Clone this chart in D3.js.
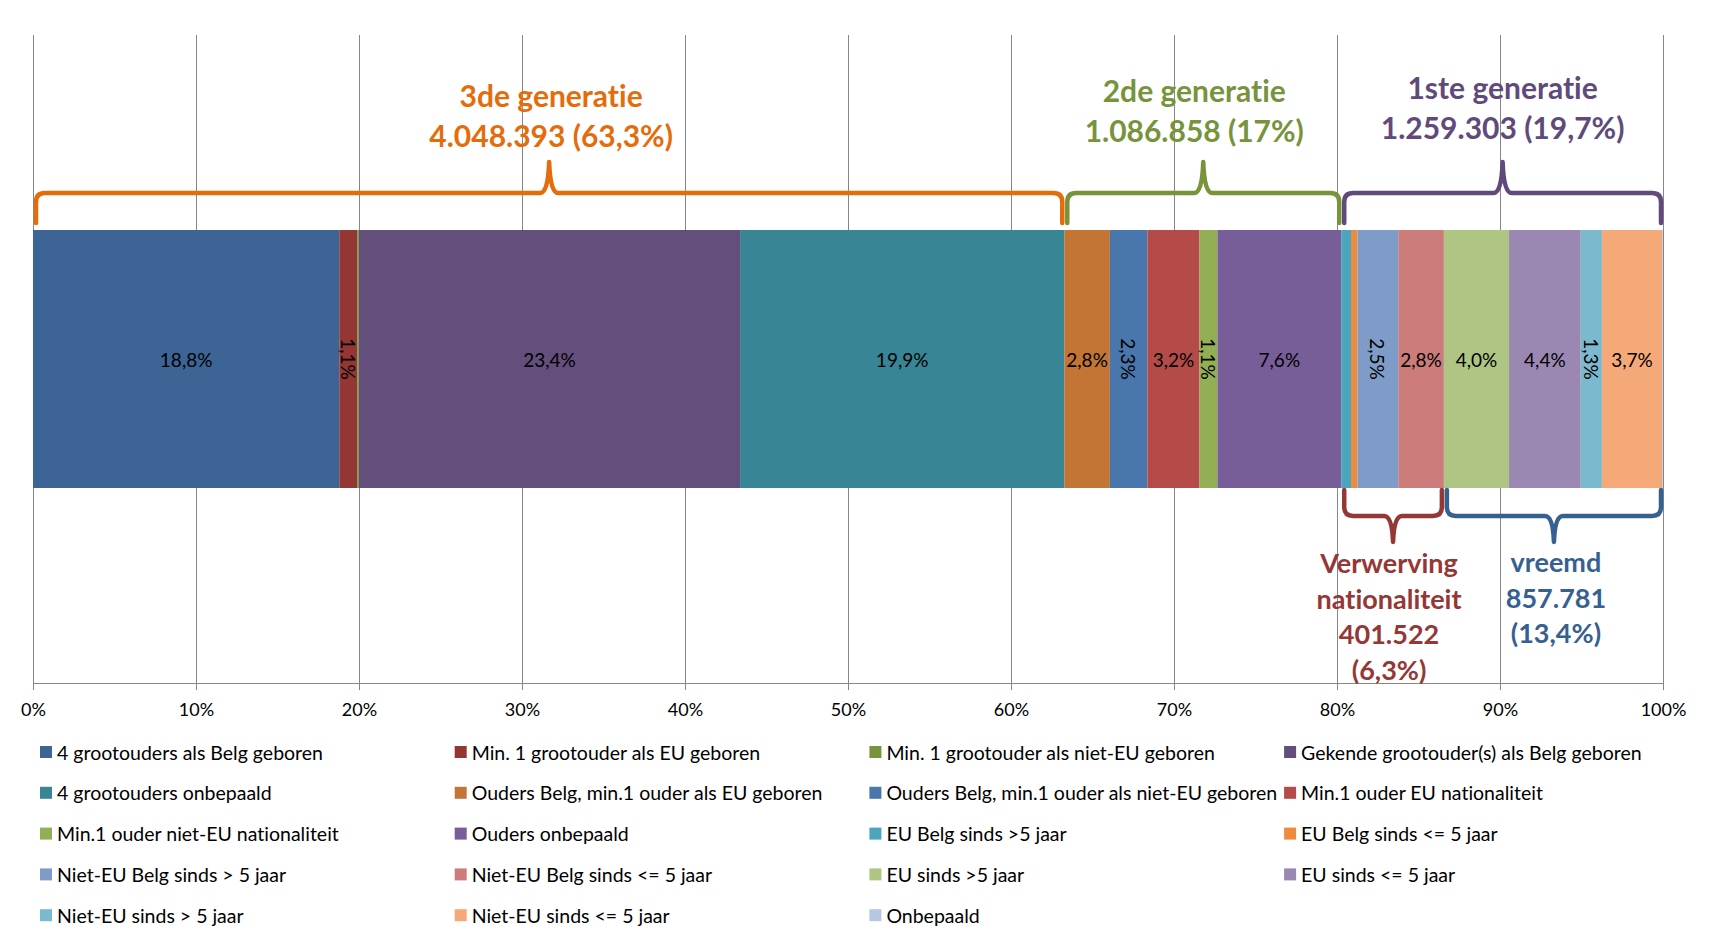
<!DOCTYPE html>
<html>
<head>
<meta charset="utf-8">
<script src="https://cdn.jsdelivr.net/npm/d3@7"></script>
<style>
  body { margin: 0; background: #fff; }
  text { font-family: Lato, "Open Sans", sans-serif; font-variant-ligatures: none; font-feature-settings: "liga" 0, "clig" 0; }
</style>
</head>
<body>
<div id="chart"></div>
<script>
// Categories of the single stacked bar (percent of population)
const categories = [
  "4 grootouders als Belg geboren",
  "Min. 1 grootouder als EU geboren",
  "Min. 1 grootouder als niet-EU geboren",
  "Gekende grootouder(s) als Belg geboren",
  "4 grootouders onbepaald",
  "Ouders Belg, min.1 ouder als EU geboren",
  "Ouders Belg, min.1 ouder als niet-EU geboren",
  "Min.1 ouder EU nationaliteit",
  "Min.1 ouder niet-EU nationaliteit",
  "Ouders onbepaald",
  "EU Belg sinds >5 jaar",
  "EU Belg sinds <= 5 jaar",
  "Niet-EU Belg sinds > 5 jaar",
  "Niet-EU Belg sinds <= 5 jaar",
  "EU sinds >5 jaar",
  "EU sinds <= 5 jaar",
  "Niet-EU sinds > 5 jaar",
  "Niet-EU sinds <= 5 jaar",
  "Onbepaald"
];
const values = [18.8, 1.1, 0.1, 23.4, 19.9, 2.8, 2.3, 3.2, 1.1, 7.6, 0.6, 0.4, 2.5, 2.8, 4.0, 4.4, 1.3, 3.7, 0.05];
const colors = [
  "#3c6595", "#943634", "#77933c", "#634e7c", "#378595",
  "#c27535", "#4876ad", "#b44b49", "#92af55", "#775e98",
  "#4ba5bd", "#ee8c3e", "#7f9cc8", "#cb7c7b", "#aec584",
  "#9a88b2", "#7bb9cf", "#f6a978", "#b5c7e2"
];
const xTicks = [0, 0.1, 0.2, 0.3, 0.4, 0.5, 0.6, 0.7, 0.8, 0.9, 1];

// Group brackets (first/last category index, inclusive)
const groupNames  = ["3de generatie", "2de generatie", "1ste generatie", "Verwerving nationaliteit", "vreemd"];
const groupTotals = ["4.048.393", "1.086.858", "1.259.303", "401.522", "857.781"];
const groupShares = ["63,3%", "17%", "19,7%", "6,3%", "13,4%"];
const groupFirst  = [0, 5, 10, 10, 14];
const groupLast   = [4, 9, 18, 13, 18];
const groupColors = ["#e46c0a", "#77933c", "#604a7b", "#953735", "#376092"];

const width = 1711, height = 942;
const plot = {left: 33, right: 1663, top: 35, bottom: 683};

const svg = d3.select("#chart").append("svg")
    .attr("width", width)
    .attr("height", height);

svg.append("rect").attr("width", width).attr("height", height).attr("fill", "#fff");

const x = d3.scaleLinear().domain([0, 1]).range([plot.left, plot.right]);
const y = d3.scaleBand().domain(["Bevolking"]).range([plot.top, plot.bottom])
    .paddingInner(0).paddingOuter(0.756);

const row = {name: "Bevolking"};
categories.forEach((c, i) => row[c] = values[i]);
const series = d3.stack().keys(categories).offset(d3.stackOffsetExpand)([row]);

// gridlines
svg.append("g")
  .selectAll("line")
  .data(xTicks)
  .join("line")
    .attr("x1", d => x(d)).attr("x2", d => x(d))
    .attr("y1", plot.top).attr("y2", plot.bottom)
    .attr("stroke", "#868686").attr("stroke-width", 1)
    .attr("shape-rendering", "crispEdges");

// axis
const axis = svg.append("g")
    .attr("transform", `translate(0,${plot.bottom})`)
    .call(d3.axisBottom(x).tickValues(xTicks).tickFormat(d3.format(".0%"))
      .tickSize(7).tickSizeOuter(0).tickPadding(13));
axis.select(".domain").attr("stroke", "#868686");
axis.selectAll(".tick line").attr("stroke", "#868686");
axis.selectAll(".tick text").attr("font-size", 18).attr("fill", "#000")
    .style("font-family", "Lato, 'Open Sans', sans-serif");

// bar segments
const yb = y("Bevolking"), bh = y.bandwidth();
svg.append("g")
  .selectAll("rect")
  .data(series)
  .join("rect")
    .attr("x", d => x(d[0][0]))
    .attr("y", yb)
    .attr("width", d => Math.max(0, x(d[0][1]) - x(d[0][0])))
    .attr("height", bh)
    .attr("fill", (d, i) => colors[i]);

// data labels
const pct = v => d3.format(".1f")(v).replace(".", ",") + "%";
svg.append("g")
  .selectAll("text")
  .data(series.filter((d, i) => values[i] >= 1))
  .join("text")
    .attr("transform", d => {
      const cx = (x(d[0][0]) + x(d[0][1])) / 2, cy = yb + bh / 2;
      const v = values[d.index];
      return `translate(${cx},${cy})` + (v < 2.6 ? " rotate(90)" : "");
    })
    .attr("text-anchor", "middle")
    .attr("dominant-baseline", "central")
    .attr("font-size", 19)
    .attr("fill", "#000")
    .text(d => pct(values[d.index]));

// brace brackets
function bracePath(x1, x2, yEnd, yBar, yTip) {
  const s = Math.sign(yTip - yBar), r = 9, w = 9, xm = (x1 + x2) / 2;
  return `M${x1},${yEnd} L${x1},${yBar - s * r} Q${x1},${yBar} ${x1 + r},${yBar} ` +
    `L${xm - w},${yBar} Q${xm - 1},${yBar} ${xm},${yTip} Q${xm + 1},${yBar} ${xm + w},${yBar} ` +
    `L${x2 - r},${yBar} Q${x2},${yBar} ${x2},${yBar - s * r} L${x2},${yEnd}`;
}

const isTop = [true, true, true, false, false];
const labelDx = [2, -9, 0, -4, 2];
const labelY = [107, 102, 99, 573, 572];

groupNames.forEach((name, g) => {
  const x1 = x(series[groupFirst[g]][0][0]) + 3;
  const x2 = x(series[groupLast[g]][0][1]) - 2;
  const top = isTop[g];
  const path = top
    ? bracePath(x1, x2, yb - 7, yb - 37, yb - 68)
    : bracePath(x1, x2, yb + bh + 2, yb + bh + 28, yb + bh + 54);
  svg.append("path")
    .attr("d", path)
    .attr("fill", "none")
    .attr("stroke", groupColors[g])
    .attr("stroke-width", 4.5)
    .attr("stroke-linecap", "round")
    .attr("stroke-linejoin", "round");

  const lines = top
    ? [name, `${groupTotals[g]} (${groupShares[g]})`]
    : name.split(" ").concat([groupTotals[g], `(${groupShares[g]})`]);
  const t = svg.append("text")
    .attr("text-anchor", "middle")
    .attr("font-weight", "bold")
    .attr("font-size", top ? 30 : 27)
    .attr("fill", groupColors[g]);
  lines.forEach((l, k) => {
    t.append("tspan")
      .attr("x", (x1 + x2) / 2 + labelDx[g])
      .attr("y", labelY[g] + k * (top ? 40 : 35.5))
      .text(l);
  });
});

// legend
const legend = svg.append("g")
  .selectAll("g")
  .data(categories)
  .join("g")
    .attr("transform", (d, i) => `translate(${40 + (i % 4) * 414.7},${752 + Math.floor(i / 4) * 40.8})`);
legend.append("rect")
    .attr("x", 0).attr("y", -6).attr("width", 12).attr("height", 12)
    .attr("fill", (d, i) => colors[i]);
legend.append("text")
    .attr("x", 17).attr("y", 0)
    .attr("dominant-baseline", "central")
    .attr("font-size", 19.5)
    .attr("fill", "#000")
    .text(d => d);
</script>
</body>
</html>
